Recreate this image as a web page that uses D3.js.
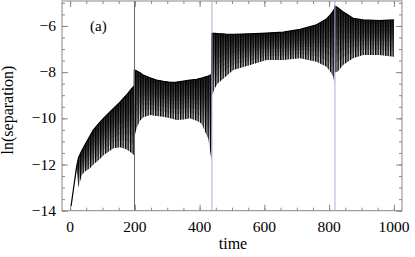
<!DOCTYPE html>
<html>
<head>
<meta charset="utf-8">
<script src="https://cdn.jsdelivr.net/npm/d3@7"></script>
<style>
  body { margin: 0; background: #fff; }
  text { font-family: 'Liberation Serif', 'DejaVu Serif', serif; fill: #000; }
</style>
</head>
<body>
<script>
// envelope of the oscillating signal
// (repeated times mark the jumps at the vertical lines)
const envTime  = [3, 12, 20, 26, 36, 46, 62, 72, 93, 103, 123, 134, 154, 165, 175, 190, 198,
                  198.5, 206, 216, 226, 247, 267, 288, 309, 329, 350, 370, 391, 406, 427, 437,
                  438, 447, 455, 480, 504, 556, 607, 658, 710, 761, 792, 805, 813, 817,
                  818, 826, 843, 874, 905, 955, 1000];
const envUpper = [-13.8, -12.9, -12.1, -11.7, -11.4, -11.15, -10.75, -10.5, -10.15, -10.0, -9.72, -9.57, -9.3, -9.13, -8.98, -8.72, -8.6,
                  -7.9, -7.95, -8.03, -8.13, -8.25, -8.34, -8.4, -8.44, -8.43, -8.39, -8.35, -8.31, -8.26, -8.17, -8.1,
                  -6.32, -6.32, -6.33, -6.35, -6.36, -6.34, -6.31, -6.27, -6.15, -5.95, -5.7, -5.5, -5.35, -5.25,
                  -5.14, -5.2, -5.39, -5.67, -5.74, -5.77, -5.74];
const envLower = [-13.8, -12.9, -12.2, -13.0, -12.45, -12.3, -12.15, -12.0, -11.75, -11.6, -11.4, -11.3, -11.25, -11.3, -11.35, -11.5, -11.6,
                  -10.8, -10.4, -10.1, -9.95, -9.86, -9.9, -9.93, -10.0, -10.07, -10.05, -10.0, -10.1, -10.22, -10.9, -11.85,
                  -9.0, -8.7, -8.5, -8.2, -7.91, -7.69, -7.48, -7.48, -7.4, -7.55, -7.77, -8.0, -8.2, -8.56,
                  -8.0, -7.98, -7.69, -7.4, -7.26, -7.26, -7.33];

const markerTimes = [199, 438, 818];
const markerColors = ['#666', '#b0b0d2', '#b0b0d2'];

const xTicks = [0, 200, 400, 600, 800, 1000];
const yTicks = [-14, -12, -10, -8, -6];

const W = 415, H = 257;
const pLeft = 62, pRight = 402, pTop = 1, pBottom = 210.7;

const svg = d3.select('body').append('svg')
  .attr('width', W)
  .attr('height', H);

const x = d3.scaleLinear().domain([-25, 1025]).range([pLeft, pRight]);
const y = d3.scaleLinear().domain([-14, -4.92]).range([pBottom, pTop]);

const data = envTime.map((t, i) => ({t: t, hi: envUpper[i], lo: envLower[i]}));

// stripe pattern for the dense oscillations
const defs = svg.append('defs');
const pat = defs.append('pattern')
  .attr('id', 'stripes')
  .attr('patternUnits', 'userSpaceOnUse')
  .attr('width', 2.5)
  .attr('height', 10);
pat.append('rect')
  .attr('width', 1.4)
  .attr('height', 10)
  .attr('fill', '#000');

defs.append('clipPath').attr('id', 'plotclip')
  .append('rect')
  .attr('x', pLeft).attr('y', pTop)
  .attr('width', pRight - pLeft).attr('height', pBottom - pTop);

const band = svg.append('g').attr('clip-path', 'url(#plotclip)');

// shading: darker near the top of each swing
const fracs = [1, 0.85, 0.72, 0.6, 0.5, 0.4, 0.3, 0.2, 0.1];
fracs.forEach(f => {
  band.append('path')
    .datum(data)
    .attr('fill', '#000')
    .attr('fill-opacity', 0.17)
    .attr('d', d3.area()
      .x(d => x(d.t))
      .y0(d => y(d.hi - f * (d.hi - d.lo)))
      .y1(d => y(d.hi)));
});

band.append('path')
  .datum(data)
  .attr('fill', 'url(#stripes)')
  .attr('d', d3.area()
    .x(d => x(d.t))
    .y0(d => y(d.lo))
    .y1(d => y(d.hi)));

band.append('path')
  .datum(data)
  .attr('fill', 'none')
  .attr('stroke', '#000')
  .attr('stroke-width', 1.2)
  .attr('d', d3.line().x(d => x(d.t)).y(d => y(d.hi)));

// vertical marker lines
svg.selectAll('.marker')
  .data(markerTimes)
  .join('line')
  .attr('class', 'marker')
  .attr('x1', d => x(d)).attr('x2', d => x(d))
  .attr('y1', pTop).attr('y2', pBottom)
  .attr('stroke', (d, i) => markerColors[i])
  .attr('stroke-width', 1);

// frame and inward ticks
const tickColor = '#888';
function styleAxis(g) {
  g.select('.domain').remove();
  g.selectAll('.tick line').attr('stroke', tickColor);
  g.selectAll('text').remove();
}

const xMinor = d3.range(0, 1001, 50);
const yMinor = d3.range(-14, -4.9, 0.5);

svg.append('g').attr('transform', `translate(0,${pBottom})`)
  .call(d3.axisBottom(x).tickValues(xMinor).tickSize(-3)).call(styleAxis);
svg.append('g').attr('transform', `translate(0,${pBottom})`)
  .call(d3.axisBottom(x).tickValues(xTicks).tickSize(-6)).call(styleAxis);
svg.append('g').attr('transform', `translate(0,${pTop})`)
  .call(d3.axisTop(x).tickValues(xMinor).tickSize(-3)).call(styleAxis);
svg.append('g').attr('transform', `translate(0,${pTop})`)
  .call(d3.axisTop(x).tickValues(xTicks).tickSize(-6)).call(styleAxis);
svg.append('g').attr('transform', `translate(${pLeft},0)`)
  .call(d3.axisLeft(y).tickValues(yMinor).tickSize(-3)).call(styleAxis);
svg.append('g').attr('transform', `translate(${pLeft},0)`)
  .call(d3.axisLeft(y).tickValues(yTicks).tickSize(-6)).call(styleAxis);
svg.append('g').attr('transform', `translate(${pRight},0)`)
  .call(d3.axisRight(y).tickValues(yMinor).tickSize(-3)).call(styleAxis);
svg.append('g').attr('transform', `translate(${pRight},0)`)
  .call(d3.axisRight(y).tickValues(yTicks).tickSize(-6)).call(styleAxis);

svg.append('rect')
  .attr('x', pLeft).attr('y', pTop)
  .attr('width', pRight - pLeft).attr('height', pBottom - pTop)
  .attr('fill', 'none')
  .attr('stroke', tickColor)
  .attr('stroke-width', 1);

// tick labels
const fmt = v => v < 0 ? '\u2212' + Math.abs(v) : String(v);
svg.selectAll('.xlab')
  .data(xTicks)
  .join('text')
  .attr('class', 'xlab')
  .attr('x', d => x(d))
  .attr('y', 232)
  .attr('text-anchor', 'middle')
  .attr('font-size', 15.5)
  .text(d => d);

svg.selectAll('.ylab')
  .data(yTicks)
  .join('text')
  .attr('class', 'ylab')
  .attr('x', 56)
  .attr('y', d => y(d) + 5)
  .attr('text-anchor', 'end')
  .attr('font-size', 15.5)
  .text(fmt);

svg.append('text')
  .attr('x', 233)
  .attr('y', 249)
  .attr('text-anchor', 'middle')
  .attr('font-size', 16)
  .text('time');

svg.append('text')
  .attr('transform', 'translate(13,110) rotate(-90)')
  .attr('text-anchor', 'middle')
  .attr('font-size', 16)
  .text('ln(separation)');

svg.append('text')
  .attr('x', 90)
  .attr('y', 31)
  .attr('font-size', 15)
  .text('(a)');
</script>
</body>
</html>
